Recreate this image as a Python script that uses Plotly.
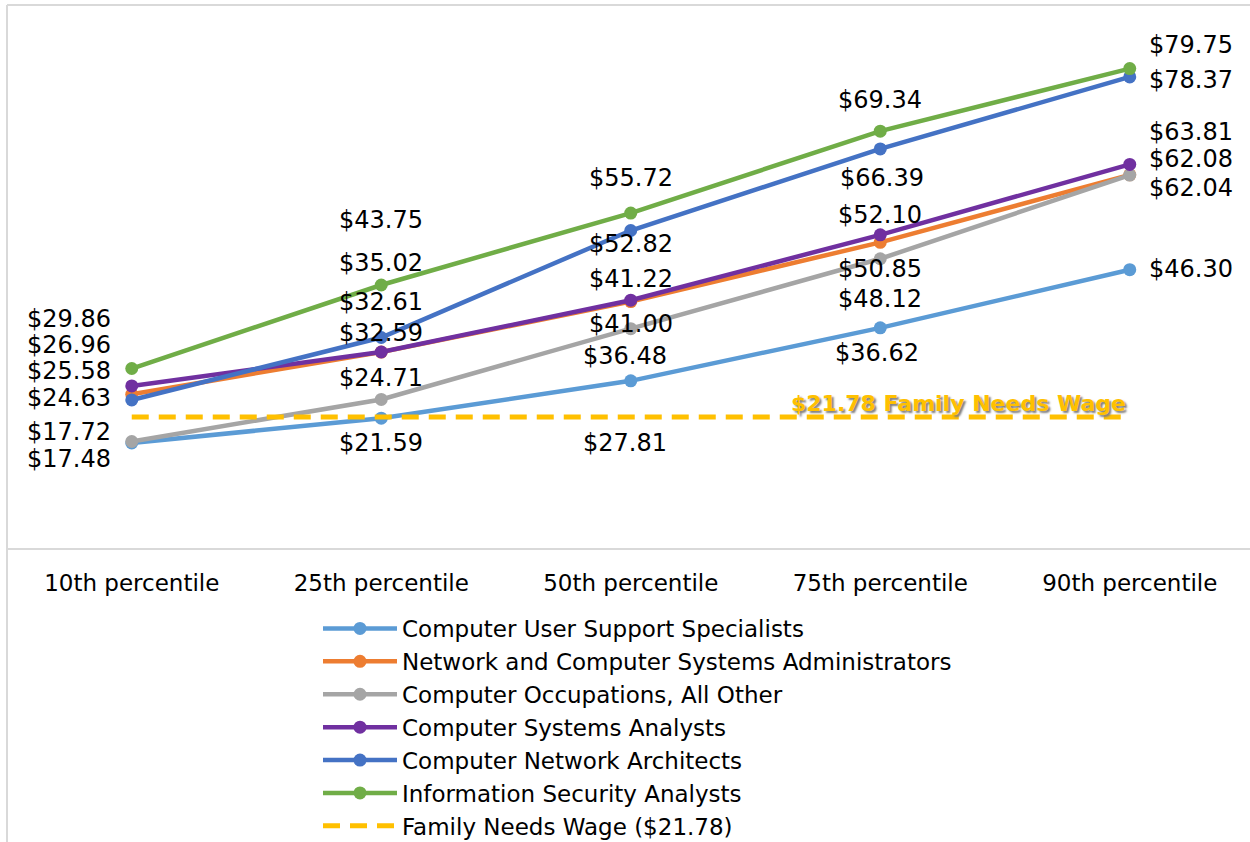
import plotly.graph_objects as go

# ---------------- data ----------------
categories = ["10th percentile", "25th percentile", "50th percentile",
              "75th percentile", "90th percentile"]

series_names = [
    "Computer User Support Specialists",
    "Network and Computer Systems Administrators",
    "Computer Occupations, All Other",
    "Computer Systems Analysts",
    "Computer Network Architects",
    "Information Security Analysts",
]
user_support = [17.48, 21.59, 27.81, 36.62, 46.30]
net_admins = [25.58, 32.59, 41.00, 50.85, 62.08]
all_other = [17.72, 24.71, 36.48, 48.12, 62.04]
sys_analysts = [26.96, 32.61, 41.22, 52.10, 63.81]
net_architects = [24.63, 35.02, 52.82, 66.39, 78.37]
info_security = [29.86, 43.75, 55.72, 69.34, 79.75]
family_wage_value = 21.78
family_wage = [family_wage_value] * len(categories)
family_name = "Family Needs Wage ($21.78)"

series_values = [user_support, net_admins, all_other, sys_analysts,
                 net_architects, info_security]
colors = ["#5B9BD5", "#ED7D31", "#A5A5A5", "#7030A0", "#4472C4", "#70AD47"]

# pixel offsets (styling) of each data label from its point: (dx, dy up, anchor)
label_offsets = [
    [(-19, -16, "right"), (0, -25, "center"), (-6, -62, "center"), (-3, -25, "center"), (17, 1, "left")],
    [(-19, 23, "right"), (0, 19, "center"), (0, -22, "center"), (0, -27, "center"), (17, 16, "left")],
    [(-19, 9, "right"), (0, 21, "center"), (-6, -27, "center"), (0, -40, "center"), (17, -13, "left")],
    [(-19, 41, "right"), (0, 50, "center"), (0, 21, "center"), (0, 20, "center"), (17, 32, "left")],
    [(-19, 2, "right"), (0, 74, "center"), (0, -14, "center"), (2, -29, "center"), (17, -3, "left")],
    [(-19, 50, "right"), (0, 65, "center"), (0, 35, "center"), (0, 31, "center"), (17, 24, "left")],
]

FONT = "DejaVu Sans"
W, H = 1250, 842
ML, MT, MB, MR = 7, 7, 294, 0

fig = go.Figure()
for name, vals, col in zip(series_names, series_values, colors):
    fig.add_trace(go.Scatter(
        x=categories, y=vals, name=name, mode="lines+markers",
        line=dict(color=col, width=4.5),
        marker=dict(color=col, size=13),
    ))
fig.add_trace(go.Scatter(
    x=categories, y=family_wage, name=family_name, mode="lines",
    line=dict(color="#FFC000", width=5, dash="17px,10px"),
))

annotations = []
for vals, offs in zip(series_values, label_offsets):
    for cat, v, (dx, dy, anc) in zip(categories, vals, offs):
        annotations.append(dict(
            x=cat, y=v, xref="x", yref="y", text=f"${v:.2f}",
            showarrow=False, xanchor=anc, yanchor="middle",
            xshift=dx, yshift=dy,
            font=dict(family=FONT, size=24, color="#000000"),
        ))
annotations.append(dict(
    x=categories[-1], y=family_wage[-1], xref="x", yref="y",
    text=f"<b>${family_wage_value:.2f} Family Needs Wage</b>",
    showarrow=False, xanchor="right", yanchor="middle", xshift=-2, yshift=14,
    font=dict(family=FONT, size=22, color="#FFC000",
              shadow="2px 2px 2px #7f7f7f"),
))

# chart frame (light grey) in paper coordinates from pixels
plot_h = H - MT - MB
plot_w = W - ML - MR
def py(p):
    return (H - MB - p) / plot_h
def px(p):
    return (p - ML) / plot_w

shapes = [
    dict(type="line", xref="paper", yref="paper", x0=px(7), x1=px(7),
         y0=py(5), y1=py(H + 20), line=dict(color="#D9D9D9", width=2)),
    dict(type="line", xref="paper", yref="paper", x0=px(7), x1=px(W),
         y0=py(5), y1=py(5), line=dict(color="#D9D9D9", width=2)),
]

fig.update_layout(
    width=W, height=H,
    margin=dict(l=ML, r=MR, t=MT, b=MB, autoexpand=False),
    paper_bgcolor="white", plot_bgcolor="white",
    font=dict(family=FONT, color="#000000"),
    showlegend=True,
    legend=dict(
        x=px(318), xanchor="left", y=py(607), yanchor="top",
        font=dict(family=FONT, size=23, color="#000000"),
        itemwidth=74, tracegroupgap=0, bgcolor="rgba(0,0,0,0)",
    ),
    annotations=annotations,
    shapes=shapes,
)
fig.update_xaxes(
    range=[-0.5, -0.5 + plot_w / 249.5],
    showline=True, linecolor="#D9D9D9", linewidth=2,
    showgrid=False, zeroline=False, ticks="",
    tickfont=dict(family=FONT, size=23, color="#000000"),
    ticklabelstandoff=13,
)
fig.update_yaxes(range=[0, 90], visible=False, showgrid=False)

fig.write_html(
    "out.html",
    config={"displayModeBar": False},
    post_script="document.body.style.margin='0';document.body.style.overflow='hidden';",
)
